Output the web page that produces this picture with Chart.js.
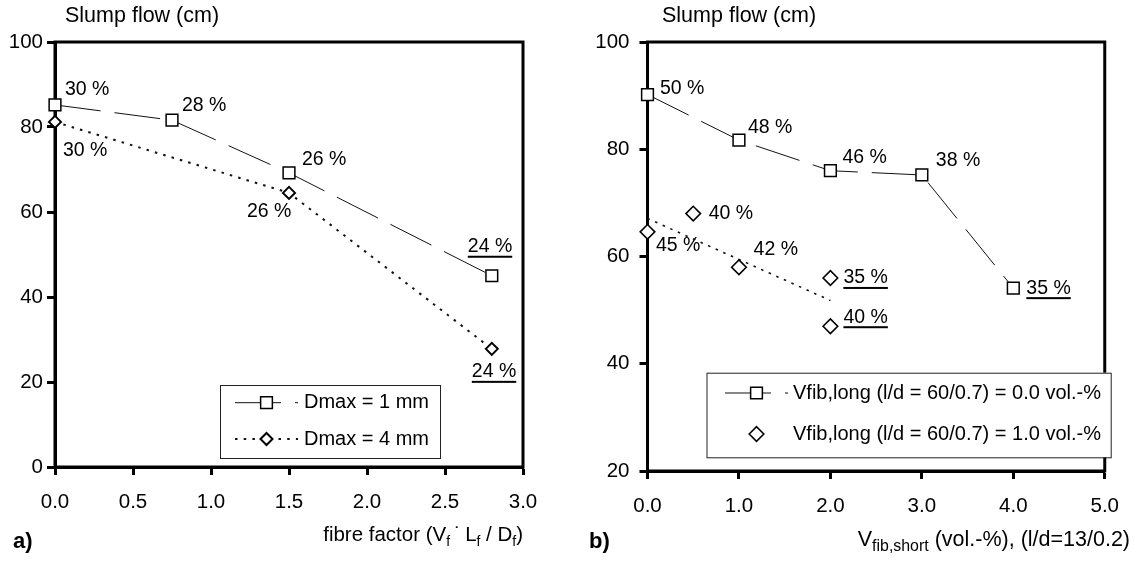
<!DOCTYPE html>
<html>
<head>
<meta charset="utf-8">
<script src="https://cdn.jsdelivr.net/npm/chart.js@4.4.0/dist/chart.umd.min.js"></script>
<style>
  html, body { margin: 0; padding: 0; background: #fff; }
  #wrap { position: relative; width: 1134px; height: 562px; }
  canvas { position: absolute; top: 0; }
  #chartA { left: 0; }
  #chartB { left: 567px; }
</style>
</head>
<body>
<div id="wrap">
  <canvas id="chartA" width="567" height="562"></canvas>
  <canvas id="chartB" width="567" height="562"></canvas>
</div>
<script>
// a) slump flow against fibre factor
const fibreFactorD1 = [0, 0.75, 1.5, 2.8];
const slumpD1 = [85.2, 81.6, 69.2, 45];
const pctD1 = ['30 %', '28 %', '26 %', '24 %'];

const fibreFactorD4 = [0, 1.5, 2.8];
const slumpD4 = [81.2, 64.5, 27.8];
const pctD4 = ['30 %', '26 %', '24 %'];

const ticksAx = [0, 0.5, 1, 1.5, 2, 2.5, 3];
const ticksAy = [0, 20, 40, 60, 80, 100];

// b) slump flow against short fibre content
const vShortL0 = [0, 1, 2, 3, 4];
const slumpL0 = [90.2, 81.7, 76, 75.2, 54.1];
const pctL0 = ['50 %', '48 %', '46 %', '38 %', '35 %'];

const vShortL1 = [0, 0.5, 1, 2, 2];
const slumpL1 = [64.6, 68, 58, 56, 47];
const pctL1 = ['45 %', '40 %', '42 %', '35 %', '40 %'];

// dotted trend line drawn through the 1.0 vol.-% points
const trendL1x = [0, 2];
const trendL1y = [67.1, 51.8];

const ticksBx = [0, 1, 2, 3, 4, 5];
const ticksBy = [20, 40, 60, 80, 100];

const FONT = '"Liberation Sans", Arial, Helvetica, sans-serif';
const pts = (xs, ys) => xs.map((x, i) => ({ x: x, y: ys[i] }));

// label placement next to each marker: [dx, dy, underlined]
const posD1 = [[10, -15], [10, -15], [13, -13], [-24, -29, 1]];
const posD4 = [[8, 29], [-42, 19], [-20, 23, 1]];
const posL0 = [[12.5, -5.5], [9, -13], [12, -13], [14, -14], [13, 0, 1]];
const posL1 = [[8.5, 14], [15.5, 0], [14.6, -18], [13, 0, 1], [13, -9, 1]];

function linearAxis(tickValues, digits, fitSize, isX, pad) {
  return {
    type: 'linear',
    min: tickValues[0],
    max: tickValues[tickValues.length - 1],
    afterBuildTicks: axis => { axis.ticks = tickValues.map(v => ({ value: v })); },
    afterFit: axis => { if (isX) axis.height = fitSize; else axis.width = fitSize; },
    border: { display: true, color: '#000', width: 3 },
    grid: { drawOnChartArea: false, drawTicks: true, tickLength: 8, tickWidth: 3, tickColor: '#000', color: '#000' },
    ticks: {
      color: '#000', padding: pad, autoSkip: false, maxRotation: 0,
      font: { family: FONT, size: 20.5 },
      callback: v => Number(v).toFixed(digits)
    }
  };
}

function drawMarker(ctx, style, r, x, y, bw) {
  ctx.beginPath();
  if (style === 'rect') {
    const s = r * Math.SQRT1_2;
    ctx.rect(x - s, y - s, 2 * s, 2 * s);
  } else {
    ctx.moveTo(x - r, y); ctx.lineTo(x, y - r); ctx.lineTo(x + r, y); ctx.lineTo(x, y + r);
    ctx.closePath();
  }
  ctx.setLineDash([]);
  ctx.fillStyle = '#fff'; ctx.fill();
  ctx.lineWidth = bw; ctx.strokeStyle = '#000'; ctx.stroke();
}

function drawRich(ctx, r) {
  const fontFor = k => (k === 'sub' ? r.size * r.sub : r.size) + 'px ' + FONT;
  let w = 0;
  r.parts.forEach(p => { ctx.font = fontFor(p[1]); w += ctx.measureText(p[0]).width; });
  let x = r.right - w;
  ctx.textAlign = 'left';
  ctx.textBaseline = 'alphabetic';
  r.parts.forEach(p => {
    ctx.font = fontFor(p[1]);
    ctx.fillText(p[0], x, r.y + (p[1] === 'sub' ? r.size * 0.25 : 0));
    x += ctx.measureText(p[0]).width;
  });
}

const framePlugin = {
  id: 'frame',
  beforeDatasetsDraw(chart) {
    const { ctx, chartArea: a } = chart;
    ctx.save();
    ctx.strokeStyle = '#000';
    ctx.lineWidth = 3;
    ctx.strokeRect(a.left, a.top, a.right - a.left, a.bottom - a.top);
    ctx.restore();
  }
};

function labelPlugin(list) {
  return {
    id: 'pctLabels',
    afterDatasetsDraw(chart) {
      const ctx = chart.ctx;
      ctx.save();
      ctx.font = '19.5px ' + FONT;
      ctx.fillStyle = '#000';
      ctx.textAlign = 'left';
      ctx.textBaseline = 'middle';
      list.forEach(item => {
        const meta = chart.getDatasetMeta(item.dataset);
        item.texts.forEach((t, j) => {
          const el = meta.data[j];
          const p = item.pos[j];
          const x = el.x + p[0], y = el.y + p[1];
          ctx.fillText(t, x, y);
          if (p[2]) ctx.fillRect(x, y + 9, ctx.measureText(t).width, 2);
        });
      });
      ctx.restore();
    }
  };
}

function legendPlugin(cfg) {
  return {
    id: 'boxLegend',
    afterDatasetsDraw(chart) {
      const ctx = chart.ctx;
      const b = cfg.box;
      ctx.save();
      ctx.fillStyle = '#fff';
      ctx.fillRect(b[0], b[1], b[2] - b[0], b[3] - b[1]);
      ctx.strokeStyle = '#222';
      ctx.lineWidth = 1;
      ctx.strokeRect(b[0] + 0.5, b[1] + 0.5, b[2] - b[0], b[3] - b[1]);
      cfg.rows.forEach(row => {
        const ds = chart.data.datasets[row.dataset];
        if (row.line) {
          ctx.beginPath();
          ctx.setLineDash(ds.borderDash || []);
          ctx.lineWidth = ds.borderWidth;
          ctx.strokeStyle = ds.borderColor;
          ctx.moveTo(cfg.line[0], row.y);
          ctx.lineTo(cfg.line[1], row.y);
          ctx.stroke();
        }
        drawMarker(ctx, ds.pointStyle, ds.pointRadius, (cfg.line[0] + cfg.line[1]) / 2, row.y, ds.pointBorderWidth);
        ctx.fillStyle = '#000';
        ctx.font = '20px ' + FONT;
        ctx.textAlign = 'left';
        ctx.textBaseline = 'middle';
        ctx.fillText(row.text, cfg.textX, row.y);
      });
      ctx.restore();
    }
  };
}

function textPlugin(cfg) {
  return {
    id: 'pageText',
    afterDraw(chart) {
      const ctx = chart.ctx;
      ctx.save();
      ctx.fillStyle = '#000';
      ctx.textAlign = 'left';
      ctx.textBaseline = 'alphabetic';
      cfg.plain.forEach(t => { ctx.font = t.font; ctx.fillText(t.text, t.x, t.y); });
      drawRich(ctx, cfg.rich);
      ctx.restore();
    }
  };
}

const baseOptions = {
  responsive: false,
  animation: false,
  events: [],
  plugins: { legend: { display: false }, tooltip: { enabled: false } }
};

// ---------- panel a
const dsD1 = {
  label: 'Dmax = 1 mm',
  data: pts(fibreFactorD1, slumpD1),
  showLine: true, clip: false,
  borderColor: '#111', borderWidth: 1, borderDash: [46, 14],
  pointStyle: 'rect', pointRadius: 8.3, pointBorderWidth: 1.5,
  pointBackgroundColor: '#fff', pointBorderColor: '#000'
};
const dsD4 = {
  label: 'Dmax = 4 mm',
  data: pts(fibreFactorD4, slumpD4),
  showLine: true, clip: false,
  borderColor: '#111', borderWidth: 2, borderDash: [2.5, 6.2],
  pointStyle: 'rectRot', pointRadius: 6, pointBorderWidth: 2,
  pointBackgroundColor: '#fff', pointBorderColor: '#000'
};

new Chart(document.getElementById('chartA'), {
  type: 'scatter',
  data: { datasets: [dsD1, dsD4] },
  options: Object.assign({}, baseOptions, {
    layout: { padding: { top: 42, right: 44, bottom: 0, left: 0 } },
    scales: {
      x: linearAxis(ticksAx, 1, 95, true, 15),
      y: linearAxis(ticksAy, 0, 55, false, 4)
    }
  }),
  plugins: [
    framePlugin,
    labelPlugin([
      { dataset: 0, texts: pctD1, pos: posD1 },
      { dataset: 1, texts: pctD4, pos: posD4 }
    ]),
    legendPlugin({
      box: [220, 385, 440, 458], line: [235, 298], textX: 304,
      rows: [
        { dataset: 0, line: true, y: 402.7, text: 'Dmax = 1 mm' },
        { dataset: 1, line: true, y: 439, text: 'Dmax = 4 mm' }
      ]
    }),
    textPlugin({
      plain: [
        { text: 'Slump flow (cm)', x: 65, y: 22, font: '21.5px ' + FONT },
        { text: 'a)', x: 13, y: 548, font: 'bold 22px ' + FONT }
      ],
      rich: {
        right: 523, y: 541, size: 20.5, sub: 0.68,
        parts: [['fibre factor (V'], ['f', 'sub'], ['\u2009\u02D9\u2009'], ['L'], ['f', 'sub'], [' / D'], ['f', 'sub'], [')']]
      }
    })
  ]
});

// ---------- panel b
const dsL0 = {
  label: 'Vfib,long (l/d = 60/0.7) = 0.0 vol.-%',
  data: pts(vShortL0, slumpL0),
  showLine: true, clip: false,
  borderColor: '#111', borderWidth: 1, borderDash: [46, 14],
  pointStyle: 'rect', pointRadius: 8.3, pointBorderWidth: 1.5,
  pointBackgroundColor: '#fff', pointBorderColor: '#000'
};
const dsL1 = {
  label: 'Vfib,long (l/d = 60/0.7) = 1.0 vol.-%',
  data: pts(vShortL1, slumpL1),
  showLine: false, clip: false,
  pointStyle: 'rectRot', pointRadius: 7.3, pointBorderWidth: 1.6,
  pointBackgroundColor: '#fff', pointBorderColor: '#000'
};
const dsTrend = {
  label: 'trend',
  data: pts(trendL1x, trendL1y),
  showLine: true, clip: false,
  borderColor: '#111', borderWidth: 1.6, borderDash: [2.5, 5.8],
  pointRadius: 0
};

new Chart(document.getElementById('chartB'), {
  type: 'scatter',
  data: { datasets: [dsL0, dsL1, dsTrend] },
  options: Object.assign({}, baseOptions, {
    layout: { padding: { top: 42, right: 17, bottom: 0, left: 0 } },
    scales: {
      x: linearAxis(ticksBx, 1, 91, true, 15),
      y: linearAxis(ticksBy, 0, 80.5, false, 10)
    }
  }),
  plugins: [
    framePlugin,
    labelPlugin([
      { dataset: 0, texts: pctL0, pos: posL0 },
      { dataset: 1, texts: pctL1, pos: posL1 }
    ]),
    legendPlugin({
      box: [139.5, 372.7, 543.7, 457.3], line: [158, 221], textX: 226,
      rows: [
        { dataset: 0, line: true, y: 393, text: 'Vfib,long (l/d = 60/0.7) = 0.0 vol.-%' },
        { dataset: 1, line: false, y: 434, text: 'Vfib,long (l/d = 60/0.7) = 1.0 vol.-%' }
      ]
    }),
    textPlugin({
      plain: [
        { text: 'Slump flow (cm)', x: 95, y: 22, font: '21.5px ' + FONT },
        { text: 'b)', x: 22, y: 548, font: 'bold 22px ' + FONT }
      ],
      rich: {
        right: 563, y: 546, size: 21.5, sub: 0.74,
        parts: [['V'], ['fib,short', 'sub'], [' (vol.-%), (l/d=13/0.2)']]
      }
    })
  ]
});
</script>
</body>
</html>
